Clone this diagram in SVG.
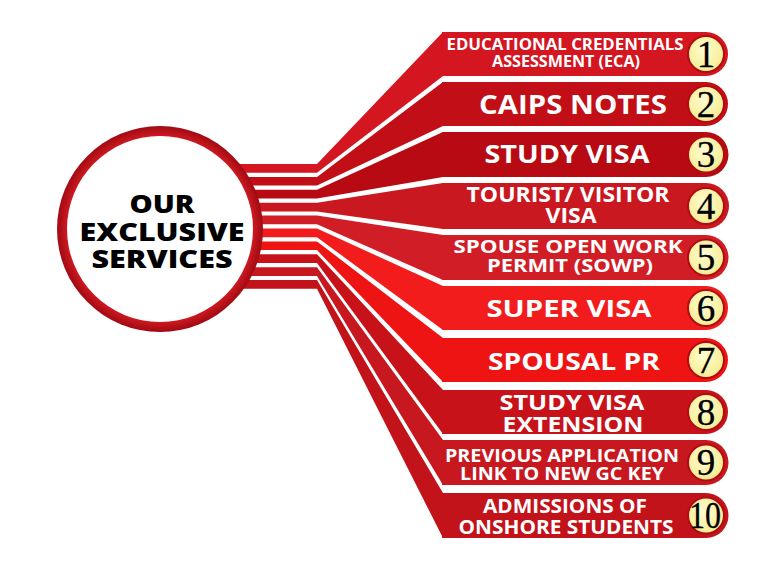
<svg xmlns="http://www.w3.org/2000/svg" width="768" height="567" viewBox="0 0 768 567">
<defs>
<radialGradient id="ring" cx="0.5" cy="0.5" r="0.5">
<stop offset="0.88" stop-color="#d81c24"/>
<stop offset="1" stop-color="#a00a12"/>
</radialGradient>
<radialGradient id="yel" cx="0.45" cy="0.4" r="0.6">
<stop offset="0" stop-color="#fffcd2"/>
<stop offset="1" stop-color="#f6ec90"/>
</radialGradient>
</defs>
<style>
.lbl{font-family:"Open Sans","DejaVu Sans",sans-serif;font-weight:700;fill:#fff;text-anchor:middle}
.num{font-family:"Liberation Serif","Times New Roman",serif;font-size:37px;fill:#000;stroke:#000;stroke-width:0.3;text-anchor:middle}
.nc{fill:url(#yel);stroke:#b00c14;stroke-width:2}
.hub{font-family:"Open Sans","DejaVu Sans",sans-serif;font-weight:800;font-size:24px;fill:#000;text-anchor:middle}
</style>
<rect width="768" height="567" fill="#fff"/>
<g id="connectors">
<path d="M200,164 L317,164 L443,32 L443,76 L317,172.7 L200,172.7 Z" fill="#d3161f"/>
<path d="M200,176.9 L317,176.9 L443,82 L443,126 L317,185.6 L200,185.6 Z" fill="#c20e16"/>
<path d="M200,189.8 L317,189.8 L443,132 L443,177 L317,198.5 L200,198.5 Z" fill="#b70a12"/>
<path d="M200,202.7 L317,202.7 L443,183 L443,229 L317,211.4 L200,211.4 Z" fill="#c9181f"/>
<path d="M200,215.6 L317,215.6 L443,235 L443,280 L317,224.3 L200,224.3 Z" fill="#d11e26"/>
<path d="M200,228.5 L317,228.5 L443,286 L443,330 L317,237.2 L200,237.2 Z" fill="#f21c1c"/>
<path d="M200,241.4 L317,241.4 L443,338 L443,382 L317,250.1 L200,250.1 Z" fill="#ef1414"/>
<path d="M200,254.3 L317,254.3 L443,390 L443,434 L317,263 L200,263 Z" fill="#c8121a"/>
<path d="M200,267.2 L317,267.2 L443,440 L443,485 L317,275.9 L200,275.9 Z" fill="#c8181f"/>
<path d="M200,280.1 L317,280.1 L443,493 L443,538 L317,288.8 L200,288.8 Z" fill="#c2121a"/>
</g>
<g id="hub">
<circle cx="160" cy="229" r="103" fill="url(#ring)"/>
<circle cx="160" cy="229" r="93" fill="#fff"/>
<text class="hub" x="162" y="213" textLength="65" lengthAdjust="spacingAndGlyphs">OUR</text>
<text class="hub" x="162" y="241" textLength="165" lengthAdjust="spacingAndGlyphs">EXCLUSIVE</text>
<text class="hub" x="162" y="268" textLength="141" lengthAdjust="spacingAndGlyphs">SERVICES</text>
</g>
<g id="node1">
<path d="M442,32 L706,32 A22,22 0 0 1 706,76 L442,76 Z" fill="#d3161f"/>
<circle class="nc" cx="706" cy="54" r="18"/>
<text class="num" x="706" y="66.5">1</text>
<text class="lbl" x="565" y="50" font-size="16.5" textLength="237" lengthAdjust="spacingAndGlyphs">EDUCATIONAL CREDENTIALS</text>
<text class="lbl" x="566" y="67" font-size="16.5" textLength="148" lengthAdjust="spacingAndGlyphs">ASSESSMENT (ECA)</text>
</g>
<g id="node2">
<path d="M442,82 L706,82 A22,22 0 0 1 706,126 L442,126 Z" fill="#c20e16"/>
<circle class="nc" cx="706" cy="104" r="18"/>
<text class="num" x="706" y="116.5">2</text>
<text class="lbl" x="573" y="114" font-size="26" textLength="188" lengthAdjust="spacingAndGlyphs">CAIPS NOTES</text>
</g>
<g id="node3">
<path d="M442,132 L706,132 A22.5,22.5 0 0 1 706,177 L442,177 Z" fill="#b70a12"/>
<circle class="nc" cx="706" cy="154.5" r="18"/>
<text class="num" x="706" y="167">3</text>
<text class="lbl" x="567" y="163" font-size="25" textLength="165" lengthAdjust="spacingAndGlyphs">STUDY VISA</text>
</g>
<g id="node4">
<path d="M442,183 L706,183 A23,23 0 0 1 706,229 L442,229 Z" fill="#c9181f"/>
<circle class="nc" cx="706" cy="206" r="18"/>
<text class="num" x="706" y="218.5">4</text>
<text class="lbl" x="568" y="202" font-size="21" textLength="203" lengthAdjust="spacingAndGlyphs">TOURIST/ VISITOR</text>
<text class="lbl" x="571" y="223" font-size="21" textLength="51" lengthAdjust="spacingAndGlyphs">VISA</text>
</g>
<g id="node5">
<path d="M442,235 L706,235 A22.5,22.5 0 0 1 706,280 L442,280 Z" fill="#d11e26"/>
<circle class="nc" cx="706" cy="257.5" r="18"/>
<text class="num" x="706" y="270">5</text>
<text class="lbl" x="568" y="253" font-size="18.5" textLength="229" lengthAdjust="spacingAndGlyphs">SPOUSE OPEN WORK</text>
<text class="lbl" x="570" y="272" font-size="18.5" textLength="166" lengthAdjust="spacingAndGlyphs">PERMIT (SOWP)</text>
</g>
<g id="node6">
<path d="M442,286 L706,286 A22,22 0 0 1 706,330 L442,330 Z" fill="#f21c1c"/>
<circle class="nc" cx="706" cy="308" r="18"/>
<text class="num" x="706" y="320.5">6</text>
<text class="lbl" x="569" y="317" font-size="24" textLength="165" lengthAdjust="spacingAndGlyphs">SUPER VISA</text>
</g>
<g id="node7">
<path d="M442,338 L706,338 A22,22 0 0 1 706,382 L442,382 Z" fill="#ef1414"/>
<circle class="nc" cx="706" cy="360" r="18"/>
<text class="num" x="706" y="372.5">7</text>
<text class="lbl" x="574" y="370" font-size="24" textLength="172" lengthAdjust="spacingAndGlyphs">SPOUSAL PR</text>
</g>
<g id="node8">
<path d="M442,390 L706,390 A22,22 0 0 1 706,434 L442,434 Z" fill="#c8121a"/>
<circle class="nc" cx="706" cy="412" r="18"/>
<text class="num" x="706" y="424.5">8</text>
<text class="lbl" x="572" y="410" font-size="22" textLength="145" lengthAdjust="spacingAndGlyphs">STUDY VISA</text>
<text class="lbl" x="573" y="432" font-size="22" textLength="141" lengthAdjust="spacingAndGlyphs">EXTENSION</text>
</g>
<g id="node9">
<path d="M442,440 L706,440 A22.5,22.5 0 0 1 706,485 L442,485 Z" fill="#c8181f"/>
<circle class="nc" cx="706" cy="462.5" r="18"/>
<text class="num" x="706" y="475">9</text>
<text class="lbl" x="562" y="462" font-size="17.5" textLength="234" lengthAdjust="spacingAndGlyphs">PREVIOUS APPLICATION</text>
<text class="lbl" x="562" y="480" font-size="17.5" textLength="204" lengthAdjust="spacingAndGlyphs">LINK TO NEW GC KEY</text>
</g>
<g id="node10">
<path d="M442,493 L706,493 A22.5,22.5 0 0 1 706,538 L442,538 Z" fill="#c2121a"/>
<circle class="nc" cx="706" cy="515.5" r="18"/>
<text class="num" x="705" y="527.5" font-size="34" textLength="32" lengthAdjust="spacingAndGlyphs">10</text>
<text class="lbl" x="565" y="513" font-size="19" textLength="164" lengthAdjust="spacingAndGlyphs">ADMISSIONS OF</text>
<text class="lbl" x="566" y="534" font-size="19" textLength="215" lengthAdjust="spacingAndGlyphs">ONSHORE STUDENTS</text>
</g>
</svg>
